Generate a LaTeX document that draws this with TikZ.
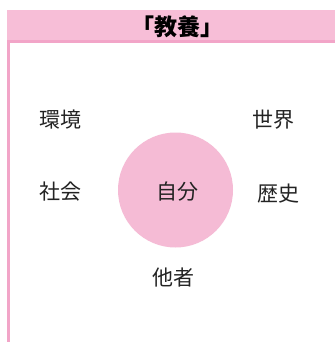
\documentclass[tikz,border=0pt]{standalone}
\usepackage{fontspec}
\newfontfamily\cjk{Noto Sans CJK JP}
\definecolor{bandpink}{RGB}{247,190,215}
\definecolor{linepink}{RGB}{242,165,200}
\definecolor{circpink}{RGB}{245,187,213}
\definecolor{txt}{RGB}{35,35,35}
\tikzset{
  lbl/.style={font=\cjk\fontsize{21}{21}\selectfont, text=txt, inner sep=0pt},
  ttl/.style={font=\cjk\bfseries\fontsize{23}{23}\selectfont, text=black, inner sep=0pt}
}
\begin{document}
\begin{tikzpicture}[x=1pt,y=-1pt]
\useasboundingbox (0,0) rectangle (335,342);
\fill[white] (0,0) rectangle (335,342);
% header band
\fill[bandpink] (7,10) rectangle (335,42);
\fill[linepink] (7,40) rectangle (335,43);
\fill[linepink] (7,40) rectangle (10,342);
\node[ttl] (title) at (177,27) {「教養」};
% circle
\fill[circpink] (175.5,190) circle (57.5);
\node[lbl] (self) at (177,192) {自分};
\node[lbl] (env) at (60,120) {環境};
\node[lbl] (world) at (273,120) {世界};
\node[lbl] (soc) at (60,192) {社会};
\node[lbl] (hist) at (278,194) {歴史};
\node[lbl] (other) at (173,278) {他者};
\end{tikzpicture}
\end{document}
